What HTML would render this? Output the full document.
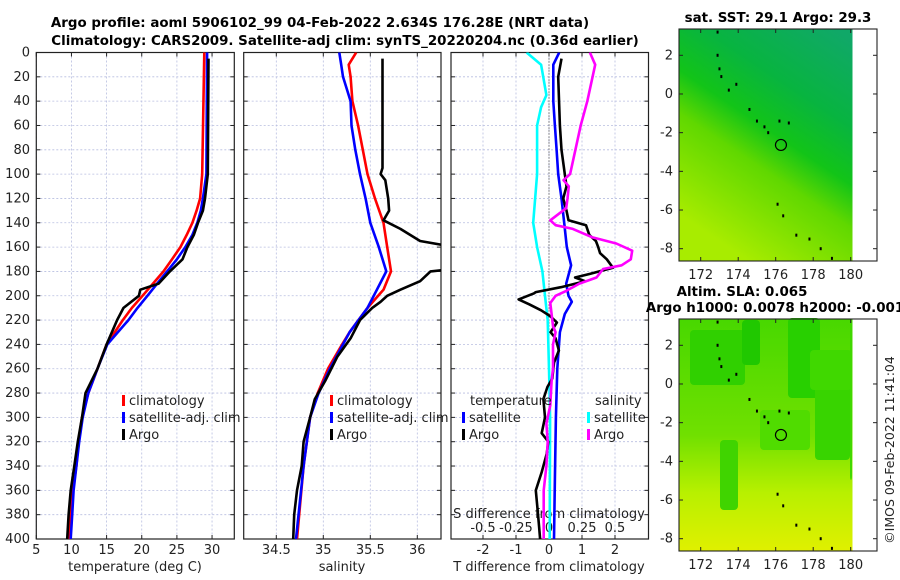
<!DOCTYPE html>
<html><head><meta charset="utf-8"><style>
body{margin:0;background:#fff;}
svg{display:block;font-family:"DejaVu Sans","Liberation Sans",sans-serif;}
.t{font-size:13px;fill:#222;}
.b{font-size:13.4px;font-weight:bold;fill:#000;}
.g{stroke:#b8bee0;stroke-width:0.8;stroke-dasharray:2,2;}
</style></head><body>
<svg id="c" width="900" height="580" viewBox="0 0 900 580">
<defs>
<clipPath id="cp1"><rect x="36.3" y="52.5" width="198" height="486.5"/></clipPath>
<clipPath id="cp2"><rect x="243.7" y="52.5" width="197.3" height="486.5"/></clipPath>
<clipPath id="cp3"><rect x="451" y="52.5" width="197.5" height="486.5"/></clipPath>
<linearGradient id="sst" x1="0.9" y1="0" x2="0.4" y2="1">
<stop offset="0" stop-color="#10a868"/><stop offset="0.3" stop-color="#08b440"/><stop offset="0.5" stop-color="#12c418"/><stop offset="0.65" stop-color="#60d800"/><stop offset="1" stop-color="#a8ec00"/></linearGradient>
<linearGradient id="sla" x1="0" y1="0" x2="0" y2="1">
<stop offset="0" stop-color="#48d800"/><stop offset="0.5" stop-color="#70e000"/><stop offset="0.75" stop-color="#b8f000"/><stop offset="1" stop-color="#e0f000"/></linearGradient>
</defs>
<text class="b" x="320" y="27" text-anchor="middle">Argo profile: aoml 5906102_99 04-Feb-2022 2.634S 176.28E (NRT data)</text>
<text class="b" x="345" y="45" text-anchor="middle">Climatology: CARS2009. Satellite-adj clim: synTS_20220204.nc (0.36d earlier)</text>
<g id="axes"></g>
<g id="maps"></g>
<text class="t" x="894" y="450" text-anchor="middle" transform="rotate(-90 894 450)" style="font-size:12.5px">©IMOS 09-Feb-2022 11:41:04</text>
</svg>
<script>
// depth levels and profile values
const depT = [0,100,120,130,140,150,160,170,180,190,200,210,220,240,260,280,300,320,340,360,380,400];
const tClim = [28.9,28.6,28.3,27.8,27.2,26.4,25.5,24.3,23.1,21.6,20.1,18.6,17.3,15.0,13.7,12.4,11.5,11.0,10.7,10.2,9.9,9.6];
const tSat  = [29.3,29.2,28.7,28.4,27.9,27.2,26.2,25.0,23.6,22.2,20.8,19.4,18.1,15.1,13.7,12.4,11.6,11.1,10.7,10.3,10.1,9.9];
const depTA = [5,100,120,130,140,150,160,170,180,190,195,200,210,220,240,260,280,300,320,340,360,380,400];
const tArgo = [29.5,29.4,29.0,28.7,28.0,27.4,26.5,25.8,24.0,22.4,19.8,19.6,17.4,16.5,15.0,13.7,12.0,11.5,10.9,10.4,9.9,9.6,9.4];
const depS = [0,10,20,40,60,80,100,120,140,160,180,195,210,230,240,260,280,300,340,400];
const sClim = [35.35,35.27,35.29,35.31,35.37,35.42,35.47,35.55,35.64,35.68,35.72,35.64,35.47,35.28,35.2,35.05,34.94,34.86,34.79,34.72];
const sSat  = [35.17,35.19,35.21,35.29,35.30,35.34,35.39,35.45,35.50,35.59,35.67,35.57,35.47,35.28,35.21,35.07,34.95,34.86,34.79,34.71];
const depSA = [5,95,100,105,120,130,138,145,155,160,178,180,188,195,200,205,210,220,235,250,270,285,300,320,340,360,380,400];
const sArgo = [35.63,35.63,35.61,35.66,35.69,35.70,35.64,35.82,36.03,36.4,36.4,36.14,36.03,35.82,35.68,35.61,35.52,35.39,35.29,35.15,35.02,34.91,34.86,34.79,34.77,34.72,34.69,34.68];
const depD = [5,20,60,80,100,110,120,130,138,142,150,155,160,165,170,177,182,185,188,193,197,198,203,207,212,217,222,230,235,245,255,268,275,285,300,313,320,330,345,360,375,390,400];
const dTArgo = [0.38,0.28,0.33,0.38,0.48,0.53,0.43,0.53,0.59,1.12,1.22,1.42,1.49,1.55,1.75,1.94,1.24,0.79,1.09,0.36,-0.4,-0.45,-0.92,-0.6,-0.24,0.05,0.24,0.05,0.2,0.3,0.15,0.1,-0.05,-0.17,-0.12,-0.22,-0.02,-0.07,-0.22,-0.4,-0.35,-0.3,-0.27];
const depDS = [0,10,40,60,80,100,105,110,120,128,138,142,145,152,157,163,170,175,178,185,190,196,200,206,215,225,230,240,260,270,290,305,320,340,360,400];
const dSArgo = [0.31,0.35,0.29,0.24,0.2,0.16,0.11,0.15,0.14,0.13,0.01,0.05,0.18,0.33,0.51,0.63,0.62,0.55,0.41,0.36,0.23,0.13,0.05,0.01,0.02,0.03,0.05,0.03,0.03,0.02,0.01,-0.02,-0.01,-0.02,-0.04,-0.04];
const depDSat = [0,10,40,60,80,100,120,140,160,175,190,200,205,215,230,260,300,350,400];
const dTSat = [0.31,0.13,0.13,0.18,0.23,0.28,0.38,0.46,0.54,0.67,0.52,0.59,0.69,0.48,0.33,0.25,0.21,0.18,0.15];
const depDC = [0,10,35,45,60,100,140,160,180,200,220,260,300,400];
const dSSat = [-0.17,-0.06,-0.02,-0.06,-0.09,-0.09,-0.12,-0.09,-0.05,-0.03,-0.01,0.0,0.008,0.005];
const tTicks = [5,10,15,20,25,30];
const sTicks = [34.5,35,35.5,36];
const dTicks = [-2,-1,0,1,2];
const dsTicks = [-0.5,-0.25,0,0.25,0.5];
const depthTicks = [0,20,40,60,80,100,120,140,160,180,200,220,240,260,280,300,320,340,360,380,400];
const latTicks = [2,0,-2,-4,-6,-8];
const lonTicks = [172,174,176,178,180];
const argoLon = 176.28, argoLat = -2.634;

const NS='http://www.w3.org/2000/svg';
const Y = d => 52.5 + d*(486.5/400);
const XT = t => 36.3 + (t-5)*7.03;
const XS = s => 276.3 + (s-34.5)*94;
const XD = v => 549 + v*33;
const XDS = v => 549 + v*132;
const axes = document.getElementById('axes');
function mk(tag, attrs, parent){const e=document.createElementNS(NS,tag);for(const k in attrs)e.setAttribute(k,attrs[k]);(parent||axes).appendChild(e);return e;}
function txt(x,y,s,anchor,parent,cls){const e=mk('text',{x:x,y:y,'text-anchor':anchor||'middle',class:cls||'t'},parent);e.textContent=s;return e;}

const panels=[{x0:36.3,x1:234.3,clip:'cp1'},{x0:243.7,x1:441,clip:'cp2'},{x0:451,x1:648.5,clip:'cp3'}];
panels.forEach((p,i)=>{
  const g=mk('g',{});
  
  
  depthTicks.forEach(d=>{
    const l=mk('line',{x1:p.x0,x2:p.x1,y1:Y(d),y2:Y(d),class:'g'},g);
    
    
    mk('line',{x1:p.x0,x2:p.x0+4,y1:Y(d),y2:Y(d),stroke:'#222'},g);
    mk('line',{x1:p.x1-4,x2:p.x1,y1:Y(d),y2:Y(d),stroke:'#222'},g);
  });
  const vt = i==0?tTicks.map(XT):i==1?sTicks.map(XS):dTicks.map(XD);
  vt.forEach(x=>{
    const l=mk('line',{x1:x,x2:x,y1:52.5,y2:539,class:'g'},g);
    
    
    mk('line',{x1:x,x2:x,y1:539,y2:535,stroke:'#222'},g);
    mk('line',{x1:x,x2:x,y1:52.5,y2:56.5,stroke:'#222'},g);
  });
  const r=mk('rect',{x:p.x0,y:52.5,width:p.x1-p.x0,height:486.5,fill:'none',stroke:'#222','stroke-width':1.2},g);
  
  
});
depthTicks.forEach(d=>{const e=txt(30,Y(d)+4,String(d),'end');
  
  });
tTicks.forEach(t=>{const e=txt(XT(t),554,String(t));
  
  });
sTicks.forEach(t=>{const e=txt(XS(t),554,String(t));
  
  });
dTicks.forEach(t=>{const e=txt(XD(t),554,String(t));
  
  });
dsTicks.forEach(t=>{const e=txt(XDS(t),532,String(t));
  
  });
[[135,'temperature (deg C)','temp-axis-title'],[342,'salinity','sal-axis-title'],[549,'T difference from climatology','tdiff-axis-title']].forEach(a=>{
  const e=txt(a[0],571,a[1]);
  
  });
{const e=txt(549,518,'S difference from climatology');
  
  }
{const l=mk('line',{x1:549,x2:549,y1:52.5,y2:539,stroke:'#333','stroke-dasharray':'1,2'});
 
 }

function series(xs,ds,fx,color,clip,name){
  const pts=xs.map((v,i)=>fx(v).toFixed(1)+','+Y(ds[i]).toFixed(1)).join(' ');
  const e=mk('polyline',{points:pts,fill:'none',stroke:color,'stroke-width':2.6,'stroke-linejoin':'round','clip-path':'url(#'+clip+')'});
  
  
}
series(tClim,depT,XT,'#ff0000','cp1','temp-climatology-line');
series(tSat,depT,XT,'#0000ff','cp1','temp-satellite-line');
series(tArgo,depTA,XT,'#000','cp1','temp-argo-line');
series(sClim,depS,XS,'#ff0000','cp2','sal-climatology-line');
series(sSat,depS,XS,'#0000ff','cp2','sal-satellite-line');
series(sArgo,depSA,XS,'#000','cp2','sal-argo-line');
series(dSSat,depDC,XDS,'#00ffff','cp3','sdiff-satellite-line');
series(dTSat,depDSat,XD,'#0000ff','cp3','tdiff-satellite-line');
series(dTArgo,depD,XD,'#000','cp3','tdiff-argo-line');
series(dSArgo,depDS,XDS,'#ff00ff','cp3','sdiff-argo-line');

function legendEntry(x,y,color,label,name){
  const g=mk('g',{});
  
  
  mk('rect',{x:x,y:y-10,width:3,height:11,fill:color},g);
  txt(x+7,y,label,'start',g).setAttribute('style','font-size:13px');
}
legendEntry(122,405,'#ff0000','climatology','legend-climatology');
legendEntry(122,422,'#0000ff','satellite-adj. clim','legend-satellite');
legendEntry(122,439,'#000','Argo','legend-argo');
legendEntry(330,405,'#ff0000','climatology','legend-climatology-2');
legendEntry(330,422,'#0000ff','satellite-adj. clim','legend-satellite-2');
legendEntry(330,439,'#000','Argo','legend-argo-2');
{const e=txt(470,405,'temperature','start');e.setAttribute('style','font-size:13px');
 
 }
{const e=txt(595,405,'salinity','start');e.setAttribute('style','font-size:13px');
 
 }
legendEntry(462,422,'#0000ff','satellite','legend-tdiff-satellite');
legendEntry(462,439,'#000','Argo','legend-tdiff-argo');
legendEntry(587,422,'#00ffff','satellite','legend-sdiff-satellite');
legendEntry(587,439,'#ff00ff','Argo','legend-sdiff-argo');

const maps=document.getElementById('maps');
const MX = lon => 700.7 + (lon-172)*18.75;
function drawMap(oy,fill,name,blobs){
  const g=mk('g',{},maps);
  
  
  const MY = lat => oy + 55.3 + (2-lat)*19.34;
  mk('rect',{x:679,y:oy+29,width:173.5,height:232,fill:fill},g);
  blobs.forEach(b=>mk('rect',{x:b[0],y:oy+b[1],width:b[2],height:b[3],fill:b[4],rx:4},g));
  [[172.9,2.0],[173.0,1.3],[173.1,0.9],[173.5,0.2],[173.9,0.5],[174.6,-0.8],[175.0,-1.4],[175.4,-1.7],[175.6,-2.0],[176.2,-1.4],[176.7,-1.5],[176.1,-5.7],[176.4,-6.3],[177.1,-7.3],[177.8,-7.5],[178.4,-8.0],[179.0,-8.5],[172.9,3.2]].forEach(c=>{
    mk('rect',{x:MX(c[0])-1,y:MY(c[1])-1.5,width:2,height:3,fill:'#000'},g);
  });
  const c=mk('circle',{cx:MX(argoLon),cy:MY(argoLat),r:5.5,fill:'none',stroke:'#000','stroke-width':1.2},g);
  
  
  mk('rect',{x:679,y:oy+29,width:198,height:232,fill:'none',stroke:'#222','stroke-width':1.1},g);
  latTicks.forEach(l=>{
    mk('line',{x1:679,x2:683,y1:MY(l),y2:MY(l),stroke:'#222'},g);
    mk('line',{x1:873,x2:877,y1:MY(l),y2:MY(l),stroke:'#222'},g);
    const e=txt(673,MY(l)+4,String(l),'end',g);
    
    
  });
  lonTicks.forEach(l=>{
    mk('line',{x1:MX(l),x2:MX(l),y1:oy+261,y2:oy+257,stroke:'#222'},g);
    mk('line',{x1:MX(l),x2:MX(l),y1:oy+29,y2:oy+33,stroke:'#222'},g);
    const e=txt(MX(l),oy+279,String(l),'middle',g);
    
    
  });
}
drawMap(0,'url(#sst)','sst-map',[]);
drawMap(290,'url(#sla)','sla-map',[
 [690,40,55,55,'#30d000'],[742,30,18,45,'#20c800'],[788,28,32,80,'#28d000'],[815,80,35,90,'#38d400'],[810,60,42,40,'#40d800'],[720,150,18,70,'#40d400'],[760,120,50,40,'#50dc00'],[850,30,2,160,'#40d800']
]);
{const e=txt(778,22,'sat. SST: 29.1 Argo: 29.3','middle',maps,'b');
 
 }
{const e=txt(742,296,'Altim. SLA: 0.065','middle',maps,'b');
 
 }
{const e=txt(775,312,'Argo h1000: 0.0078 h2000: -0.001','middle',maps,'b');
 
 }
</script>
</body></html>
